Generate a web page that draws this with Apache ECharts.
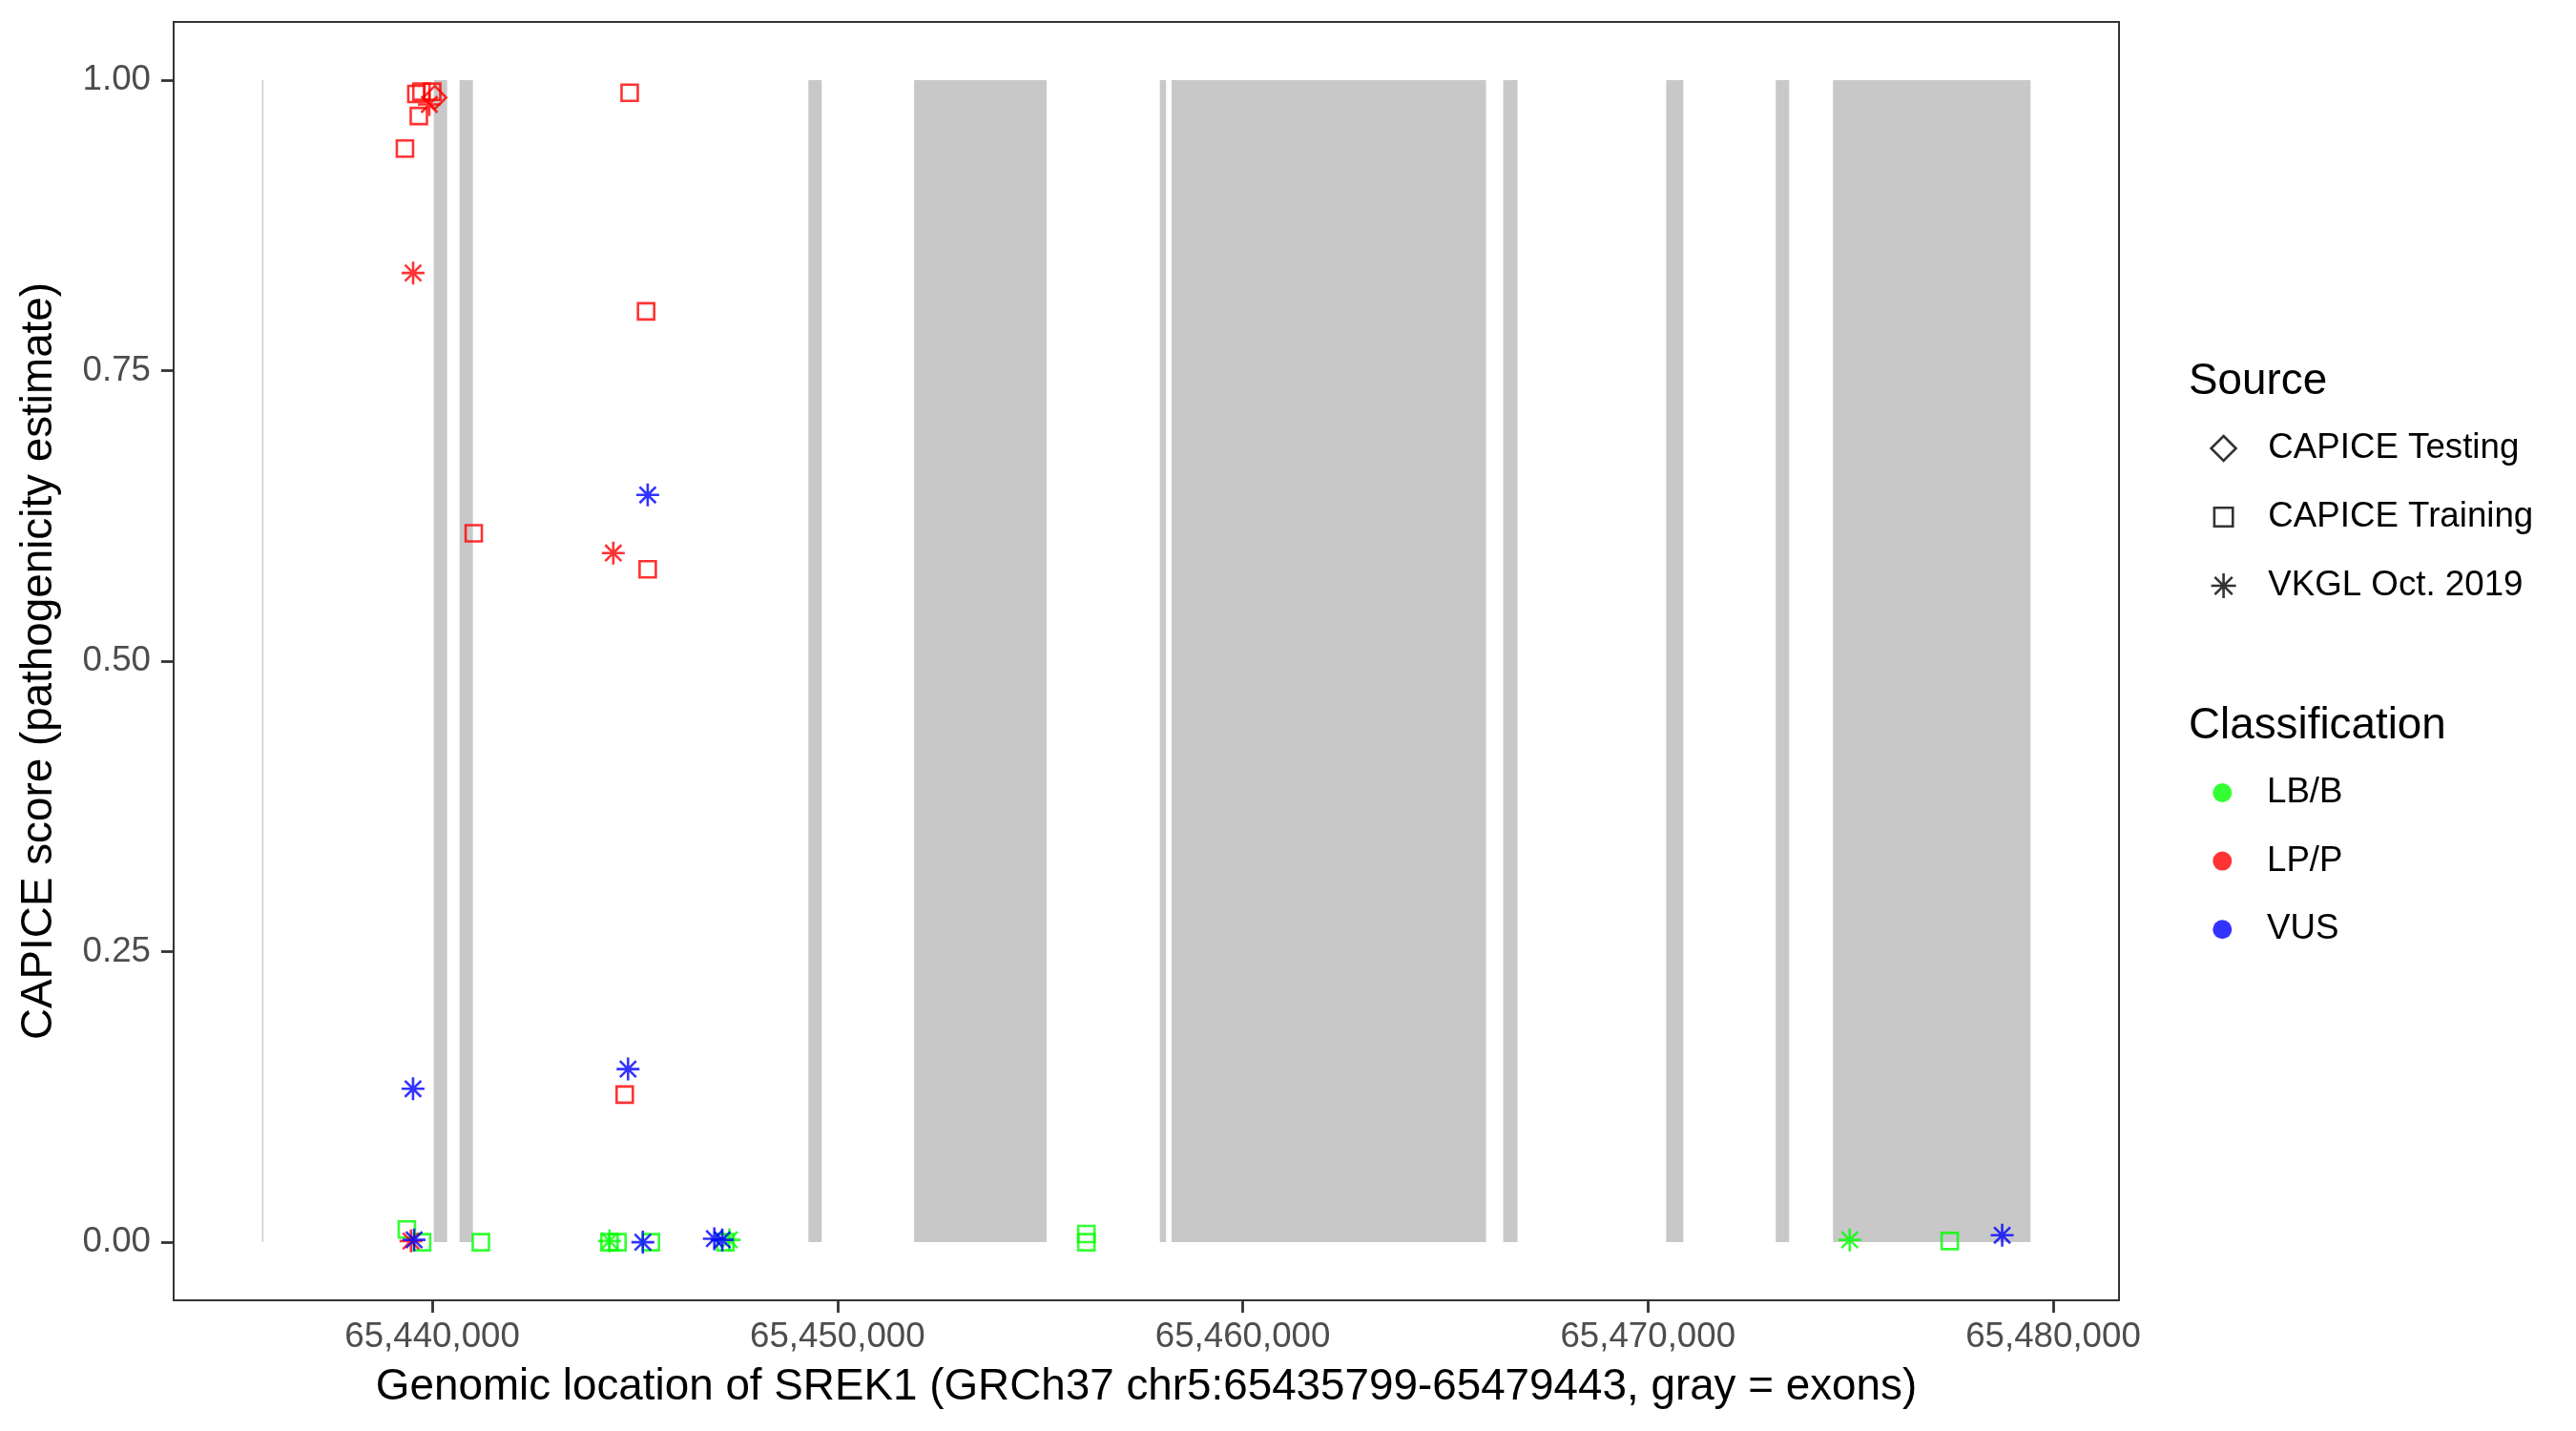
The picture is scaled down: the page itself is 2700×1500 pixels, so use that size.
<!DOCTYPE html>
<html>
<head>
<meta charset="utf-8">
<script src="https://cdn.jsdelivr.net/npm/echarts@6/dist/echarts.min.js"></script>
<style>
html,body{margin:0;padding:0;background:#fff;}
#chart{width:2700px;height:1500px;}
</style>
</head>
<body>
<div id="chart"></div>
<script>
// ---------- data ----------
const exonStart = [65435799, 65440038, 65440673, 65449281, 65451890, 65457956, 65458243, 65466428, 65470450, 65473155, 65474567];
const exonEnd   = [65435830, 65440367, 65441002, 65449610, 65455160, 65458109, 65466005, 65466781, 65470874, 65473485, 65479443];

const xTicks = [65440000, 65450000, 65460000, 65470000, 65480000];
const yTicks = [0, 0.25, 0.5, 0.75, 1];

const sourceNames = ['CAPICE Testing', 'CAPICE Training', 'VKGL Oct. 2019'];
const classNames = ['LB/B', 'LP/P', 'VUS'];

// CAPICE Testing
const testingLPP = [[65440061, 0.985]];
// CAPICE Training
const trainingLPP = [[65439607, 0.988], [65439732, 0.990], [65439998, 0.990], [65439668, 0.969], [65439325, 0.941],
                     [65444871, 0.989], [65445276, 0.801], [65441023, 0.610], [65445316, 0.579], [65444749, 0.127]];
const trainingLBB = [[65439372, 0.011], [65439748, 0.000], [65441198, 0.000], [65444373, 0.000], [65444570, 0.000],
                     [65445393, 0.000], [65447235, 0.000], [65456142, 0.007], [65456142, 0.000], [65477448, 0.001]];
// VKGL Oct. 2019
const vkglLPP = [[65439927, 0.979], [65439527, 0.834], [65444467, 0.593], [65439473, 0.001]];
const vkglVUS = [[65445316, 0.643], [65439525, 0.132], [65444831, 0.149], [65439551, 0.002], [65445196, 0.000],
                 [65446960, 0.003], [65447157, 0.002], [65478742, 0.006]];
const vkglLBB = [[65444373, 0.001], [65447329, 0.002], [65474980, 0.002]];

// ---------- styles ----------
const FONT = 'Liberation Sans, Arial, Helvetica, sans-serif';
const classColor = {'LB/B': '#00FF00', 'LP/P': '#FF0000', 'VUS': '#0000FF'};
const STAR = 'path://M10,0L10,20M0,10L20,10M2.929,2.929L17.071,17.071M2.929,17.071L17.071,2.929';
const LEG_SQUARE = 'path://M0,0M26,26M3.3,3.3L22.7,3.3L22.7,22.7L3.3,22.7Z';
const LEG_DIAMOND = 'path://M13,0L26,13L13,26L0,13Z';
const LEG_STAR = 'path://M13,0L13,26M0,13L26,13M3.8,3.8L22.2,22.2M3.8,22.2L22.2,3.8';
const SW = 2.6;

function pts(arr, cls) {
  return arr.map(p => ({value: p, itemStyle: {borderColor: classColor[cls]}}));
}

const exonData = exonStart.map((s, i) => [s, exonEnd[i]]);

const chart = echarts.init(document.getElementById('chart'), null, {renderer: 'canvas'});

const hollow = (c) => ({color: 'transparent', borderColor: c, borderWidth: SW});

const option = {
  animation: false,
  backgroundColor: '#ffffff',
  textStyle: {fontFamily: FONT},
  grid: {left: 182, right: 479, top: 23, bottom: 137, show: true, borderColor: '#333333', borderWidth: 2},
  title: [
    {text: 'Source', left: 2294, top: 377, padding: 0,
     textStyle: {fontSize: 45.8, fontWeight: 'normal', color: '#000', fontFamily: FONT}},
    {text: 'Classification', left: 2294, top: 738, padding: 0,
     textStyle: {fontSize: 45.8, fontWeight: 'normal', color: '#000', fontFamily: FONT}}
  ],
  legend: [
    {
      orient: 'vertical', left: 2316.3, top: 450, padding: 0, itemGap: 32,
      itemWidth: 26, itemHeight: 26, selectedMode: false,
      textStyle: {fontSize: 36.7, color: '#000', fontFamily: FONT, lineHeight: 40, padding: [0, 0, 0, 28.7]},
      data: [
        {name: sourceNames[0], icon: LEG_DIAMOND, itemStyle: hollow('#000')},
        {name: sourceNames[1], icon: LEG_SQUARE, itemStyle: hollow('#000')},
        {name: sourceNames[2], icon: LEG_STAR, itemStyle: hollow('#000')}
      ]
    },
    {
      orient: 'vertical', left: 2319.3, top: 811, padding: 0, itemGap: 31.6,
      itemWidth: 20, itemHeight: 20, selectedMode: false,
      textStyle: {fontSize: 36.7, color: '#000', fontFamily: FONT, lineHeight: 40, padding: [0, 0, 0, 31.7]},
      data: classNames.map(c => ({name: c, icon: 'circle', itemStyle: {color: classColor[c], borderWidth: 0}}))
    }
  ],
  xAxis: {
    type: 'value', min: 65433617, max: 65481625, position: 'bottom',
    name: 'Genomic location of SREK1 (GRCh37 chr5:65435799-65479443, gray = exons)',
    nameLocation: 'middle', nameGap: 68,
    nameTextStyle: {fontSize: 45.8, color: '#000', fontFamily: FONT},
    axisLine: {show: true, onZero: false, lineStyle: {color: '#333333', width: 2}},
    splitLine: {show: false},
    axisTick: {show: true, inside: false, customValues: xTicks, length: 13, lineStyle: {color: '#333333', width: 2.8}},
    axisLabel: {customValues: xTicks, margin: 20, fontSize: 36.7, color: '#4D4D4D', fontFamily: FONT,
      formatter: v => Math.round(v).toLocaleString('en-US')}
  },
  yAxis: {
    type: 'value', min: -0.05, max: 1.05, position: 'left',
    name: 'CAPICE score (pathogenicity estimate)',
    nameLocation: 'middle', nameGap: 118, nameRotate: 90,
    nameTextStyle: {fontSize: 45.8, color: '#000', fontFamily: FONT},
    axisLine: {show: true, onZero: false, lineStyle: {color: '#333333', width: 2}},
    splitLine: {show: false},
    axisTick: {show: true, inside: false, customValues: yTicks, length: 13, lineStyle: {color: '#333333', width: 2.8}},
    axisLabel: {customValues: yTicks, margin: 24, fontSize: 36.7, color: '#4D4D4D', fontFamily: FONT,
      formatter: v => v.toFixed(2)}
  },
  series: [
    {
      type: 'custom', name: 'exons', z: 1, silent: true,
      data: exonData,
      encode: {x: [0, 1]},
      renderItem: function (params, api) {
        const a = api.coord([api.value(0), 1]);
        const b = api.coord([api.value(1), 0]);
        return {type: 'rect', shape: {x: a[0], y: a[1], width: Math.max(b[0] - a[0], 1), height: b[1] - a[1]},
                style: {fill: '#C8C8C8'}};
      }
    },
    {
      type: 'scatter', name: sourceNames[1], z: 3, symbol: 'rect', symbolSize: 17,
      itemStyle: hollow('#000'),
      data: pts(trainingLBB, 'LB/B').concat(pts(trainingLPP, 'LP/P'))
    },
    {
      type: 'scatter', name: sourceNames[2], z: 4, symbol: STAR, symbolSize: 24, symbolKeepAspect: true,
      itemStyle: hollow('#000'),
      data: pts(vkglLBB, 'LB/B').concat(pts(vkglLPP, 'LP/P')).concat(pts(vkglVUS, 'VUS'))
    },
    {
      type: 'scatter', name: sourceNames[0], z: 5, symbol: 'diamond', symbolSize: 24,
      itemStyle: hollow('#000'),
      data: pts(testingLPP, 'LP/P')
    },
    {type: 'scatter', name: 'LB/B', data: [], itemStyle: {color: classColor['LB/B']}},
    {type: 'scatter', name: 'LP/P', data: [], itemStyle: {color: classColor['LP/P']}},
    {type: 'scatter', name: 'VUS', data: [], itemStyle: {color: classColor['VUS']}}
  ]
};
chart.setOption(option);
</script>
</body>
</html>
